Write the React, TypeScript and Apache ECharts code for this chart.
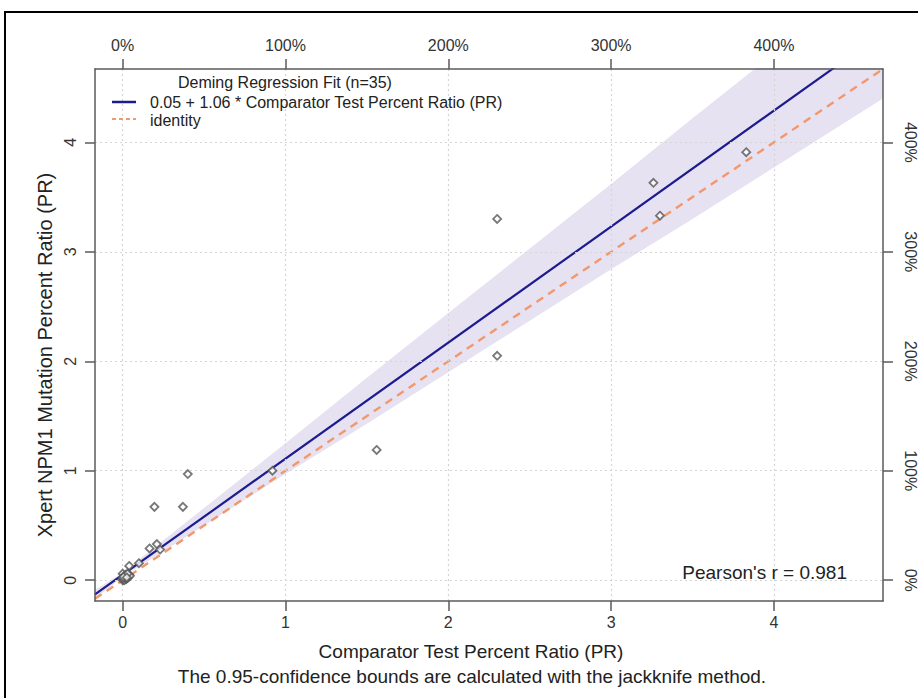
import React, { useEffect, useRef } from "react";
import * as echarts from "echarts";

// ---- data ----
const xTicks = [0, 1, 2, 3, 4];
const yTicks = [0, 1, 2, 3, 4];
const xRange = [-0.17, 4.67];
const yRange = [-0.19, 4.67];

const comparatorPR = [
  2.3, 2.3, 3.26, 3.3, 3.83, 1.56, 0.92, 0.4, 0.195, 0.37, 0.21, 0.23, 0.165,
  0.1, 0.04, 0.0,
  0.01, 0.02, 0.03, 0.005, 0.0, 0.01, 0.02, 0.03, 0.04, 0.015, 0.025, 0.0,
  0.035, 0.02, 0.045, 0.01, 0.03, 0.005, 0.025,
];
const xpertPR = [
  3.3, 2.05, 3.63, 3.33, 3.91, 1.19, 1.0, 0.97, 0.67, 0.67, 0.33, 0.28, 0.29,
  0.155, 0.13, 0.06,
  0.02, 0.03, 0.04, 0.01, 0.0, 0.0, 0.01, 0.02, 0.05, 0.035, 0.015, 0.02,
  0.03, 0.05, 0.04, 0.04, 0.06, 0.03, 0.025,
];

const fitX = [-0.17, 4.67];
const fitY = [-0.13, 5.0];
const identityX = [-0.17, 4.67];
const identityY = [-0.17, 4.67];

const bandX = [-0.17, 0, 0.5, 1, 1.5, 2, 2.5, 3, 3.5, 4, 4.67];
const bandUpper = [-0.09, 0.07, 0.66, 1.25, 1.85, 2.44, 3.03, 3.62, 4.22, 4.81, 5.6];
const bandLower = [-0.17, 0.03, 0.5, 0.97, 1.43, 1.9, 2.37, 2.84, 3.3, 3.77, 4.4];

const legendTitle = "Deming Regression Fit (n=35)";
const legendFit = "0.05 + 1.06 * Comparator Test Percent Ratio (PR)";
const legendIdentity = "identity";
const pearsonText = "Pearson's r = 0.981";
const xTitle = "Comparator Test Percent Ratio (PR)";
const yTitle = "Xpert NPM1 Mutation Percent Ratio (PR)";
const footnote = "The 0.95-confidence bounds are calculated with the jackknife method.";

const FONT = "'Liberation Sans', Arial, Helvetica, sans-serif";
const NAVY = "#1c1c8f";
const ORANGE = "#f2986c";
const BAND = "#e7e2f1";
const AXIS = "#5a5a5a";
const LABEL = "#333333";

export default function App() {
  const ref = useRef<HTMLDivElement>(null);
  useEffect(() => {
    if (!ref.current) return;
    const chart = echarts.init(ref.current, undefined, { renderer: "svg" });

    const pct = (v: number) => `${Math.round(v * 100)}%`;
    const baseAxis = {
      type: "value" as const,
      z: 10,
      axisLine: { show: true, onZero: false, lineStyle: { color: AXIS, width: 1.5 } },
      axisTick: { show: true, length: 10, lineStyle: { color: AXIS, width: 1.5 } },
      splitLine: { show: false },
    };
    const labelBase = { color: LABEL, fontSize: 16, fontFamily: FONT };

    const gridLines = [
      ...xTicks.map((v) => ({ xAxis: v })),
      ...yTicks.map((v) => ({ yAxis: v })),
    ];

    chart.setOption({
      animation: false,
      backgroundColor: "#ffffff",
      grid: { left: 95, right: 30, top: 69, bottom: 97, containLabel: false },
      xAxis: [
        {
          ...baseAxis,
          position: "bottom",
          min: xRange[0],
          max: xRange[1],
          axisTick: { ...baseAxis.axisTick, customValues: xTicks },
          axisLabel: { ...labelBase, customValues: xTicks, margin: 13, formatter: (v: number) => `${v}` },
        },
        {
          ...baseAxis,
          position: "top",
          min: xRange[0],
          max: xRange[1],
          axisTick: { ...baseAxis.axisTick, customValues: xTicks },
          axisLabel: { ...labelBase, customValues: xTicks, margin: 16, formatter: pct },
        },
      ],
      yAxis: [
        {
          ...baseAxis,
          position: "left",
          min: yRange[0],
          max: yRange[1],
          axisTick: { ...baseAxis.axisTick, customValues: yTicks },
          axisLabel: { ...labelBase, customValues: yTicks, rotate: 90, margin: 17, formatter: (v: number) => `${v}` },
        },
        {
          ...baseAxis,
          position: "right",
          min: yRange[0],
          max: yRange[1],
          axisTick: { ...baseAxis.axisTick, customValues: yTicks },
          axisLabel: { ...labelBase, customValues: yTicks, rotate: -90, margin: 19, formatter: pct },
        },
      ],
      series: [
        {
          name: "bandUpper",
          type: "line",
          symbol: "none",
          silent: true,
          lineStyle: { opacity: 0 },
          areaStyle: { color: BAND, opacity: 1, origin: "start" },
          data: bandX.map((x, i) => [x, bandUpper[i]]),
          z: 1,
        },
        {
          name: "bandLower",
          type: "line",
          symbol: "none",
          silent: true,
          lineStyle: { opacity: 0 },
          areaStyle: { color: "#ffffff", opacity: 1, origin: "start" },
          data: bandX.map((x, i) => [x, bandLower[i]]),
          z: 1,
        },
        {
          name: "grid",
          type: "line",
          symbol: "none",
          silent: true,
          data: [],
          z: 2,
          markLine: {
            silent: true,
            symbol: "none",
            label: { show: false },
            lineStyle: { color: "#d4d4d4", type: [2, 3], width: 1.2 },
            data: gridLines,
          },
        },
        {
          name: "identity",
          type: "line",
          symbol: "none",
          lineStyle: { color: ORANGE, width: 2.4, type: [8, 6] },
          data: identityX.map((x, i) => [x, identityY[i]]),
          z: 3,
        },
        {
          name: "fit",
          type: "line",
          symbol: "none",
          lineStyle: { color: NAVY, width: 2.2 },
          data: fitX.map((x, i) => [x, fitY[i]]),
          z: 4,
        },
        {
          name: "points",
          type: "scatter",
          symbol: "diamond",
          symbolSize: 8,
          itemStyle: { color: "#ffffff", borderColor: "#555555", borderWidth: 1.8 },
          data: comparatorPR.map((x, i) => [x, xpertPR[i]]),
          z: 5,
        },
      ],
      graphic: [
        {
          type: "rect",
          z: 100,
          shape: { x: 5, y: 12, width: 930, height: 700 },
          style: { fill: "none", stroke: "#000", lineWidth: 2 },
          silent: true,
        },
        {
          type: "text",
          z: 100,
          x: 178,
          y: 82,
          style: { text: legendTitle, font: `16px ${FONT}`, fill: "#222", textVerticalAlign: "middle" },
        },
        {
          type: "line",
          z: 100,
          shape: { x1: 112, y1: 102, x2: 136, y2: 102 },
          style: { stroke: NAVY, lineWidth: 2.5 },
        },
        {
          type: "text",
          z: 100,
          x: 150,
          y: 102,
          style: { text: legendFit, font: `16px ${FONT}`, fill: "#222", textVerticalAlign: "middle" },
        },
        {
          type: "line",
          z: 100,
          shape: { x1: 112, y1: 119, x2: 136, y2: 119 },
          style: { stroke: ORANGE, lineWidth: 2, lineDash: [4, 3] },
        },
        {
          type: "text",
          z: 100,
          x: 150,
          y: 120,
          style: { text: legendIdentity, font: `16px ${FONT}`, fill: "#222", textVerticalAlign: "middle" },
        },
        {
          type: "text",
          z: 100,
          x: 847,
          y: 572,
          style: {
            text: pearsonText,
            font: `19px ${FONT}`,
            fill: "#222",
            textAlign: "right",
            textVerticalAlign: "middle",
          },
        },
        {
          type: "text",
          z: 100,
          x: 471,
          y: 651,
          style: {
            text: xTitle,
            font: `19px ${FONT}`,
            fill: "#222",
            textAlign: "center",
            textVerticalAlign: "middle",
          },
        },
        {
          type: "text",
          z: 100,
          x: 472,
          y: 676,
          style: {
            text: footnote,
            font: `19px ${FONT}`,
            fill: "#222",
            textAlign: "center",
            textVerticalAlign: "middle",
          },
        },
        {
          type: "text",
          z: 100,
          x: 45,
          y: 355,
          rotation: Math.PI / 2,
          style: {
            text: yTitle,
            font: `20px ${FONT}`,
            fill: "#222",
            textAlign: "center",
            textVerticalAlign: "middle",
          },
        },
      ],
    });

    return () => chart.dispose();
  }, []);

  return (
    <div
      ref={ref}
      style={{ position: "fixed", left: 0, top: 0, width: 918, height: 698, background: "#fff" }}
    />
  );
}
